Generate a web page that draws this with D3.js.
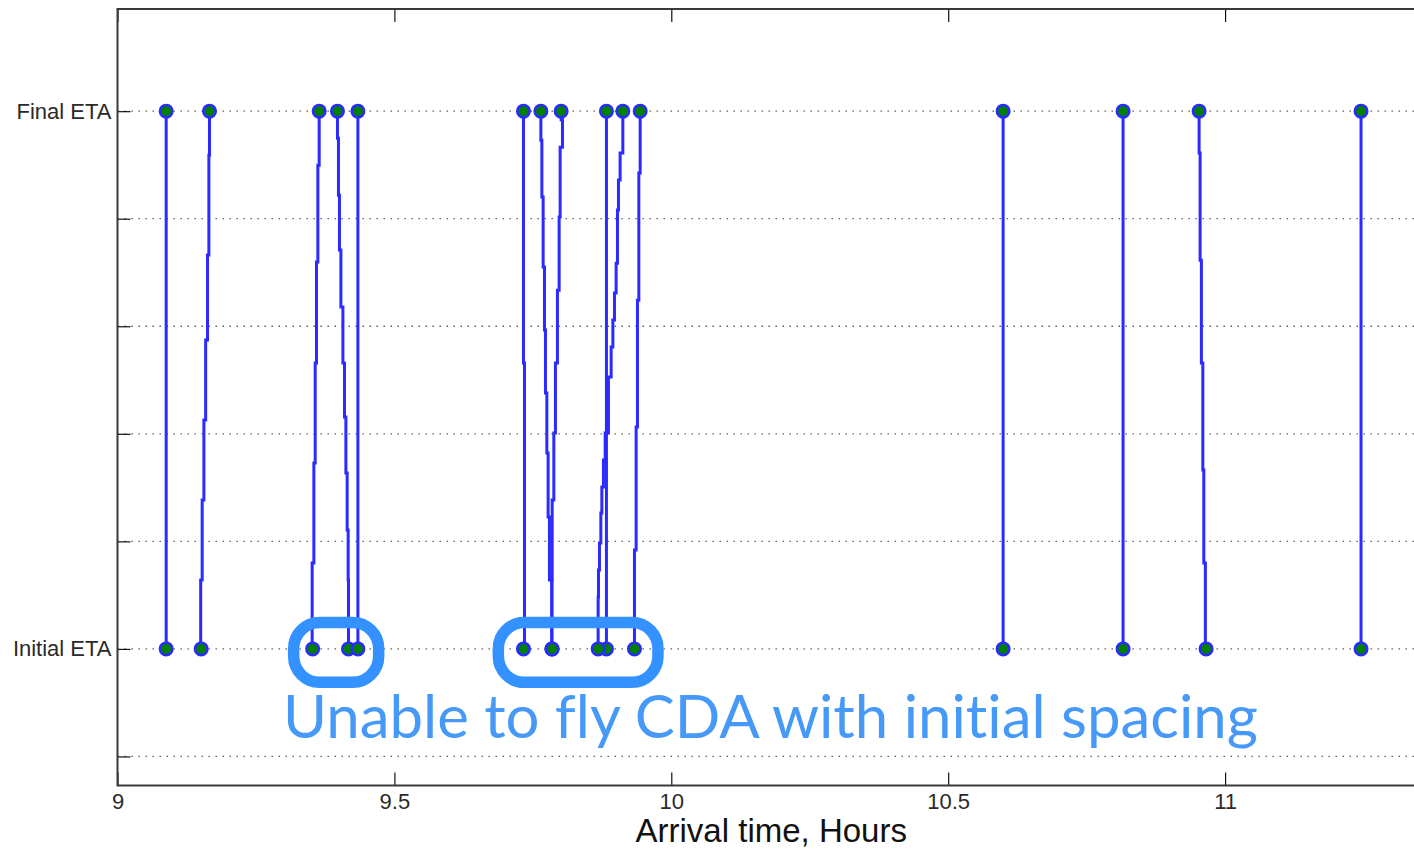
<!DOCTYPE html>
<html>
<head>
<meta charset="utf-8">
<script src="https://cdn.jsdelivr.net/npm/d3@7"></script>
<style>
  html, body { margin: 0; padding: 0; background: #fff; overflow: hidden; }
  svg { display: block; }
  .note { font-variant-ligatures: none; font-feature-settings: "liga" 0, "dlig" 0; }
</style>
</head>
<body>
<svg id="chart" width="1414" height="851"></svg>
<script>
// Arrival-time axis (hours) and ETA levels
const xTicks = [9, 9.5, 10, 10.5, 11];
const yTickValues = [0, 1, 2, 3, 4, 5, 6];
const yTickLabels = ["", "Initial ETA", "", "", "", "", "Final ETA"];

// ETA history of each flight: [level, arrival hour], from final (level 6) down to initial (level 1)
const etaTracks = [
  [[6, 9.0879], [1, 9.0879]],
  [[6, 9.1661], [5.591, 9.1650], [4.662, 9.1625], [3.872, 9.1592], [3.128, 9.1560], [2.385, 9.1529], [1.641, 9.1502], [1, 9.1511]],
  [[6, 9.3642], [5.498, 9.3618], [4.597, 9.3593], [3.658, 9.3570], [2.729, 9.3546], [1.799, 9.3515], [1, 9.3524]],
  [[6, 9.3972], [5.749, 9.3990], [5.219, 9.4008], [4.708, 9.4034], [4.178, 9.4070], [3.658, 9.4099], [3.156, 9.4124], [2.636, 9.4147], [2.106, 9.4165], [1.641, 9.4171], [1, 9.4171]],
  [[6, 9.4341], [1, 9.4341]],
  [[6, 9.7331], [3.658, 9.7349], [1, 9.7331]],
  [[6, 9.7645], [5.730, 9.7663], [5.201, 9.7686], [4.550, 9.7710], [3.965, 9.7728], [3.379, 9.7753], [2.822, 9.7776], [2.227, 9.7800], [1.641, 9.7843], [1, 9.7843]],
  [[6, 9.8011], [5.92, 9.8035], [5.665, 9.7993], [5.015, 9.7975], [4.336, 9.7944], [3.658, 9.7908], [3.007, 9.7879], [2.385, 9.7849], [1.641, 9.7843], [1, 9.7849]],
  [[6, 9.8829], [1, 9.8829]],
  [[6, 9.9125], [5.610, 9.9076], [5.359, 9.9046], [5.080, 9.9028], [4.587, 9.9004], [4.309, 9.8974], [4.058, 9.8945], [3.807, 9.8914], [3.528, 9.8865], [3.007, 9.8806], [2.757, 9.8775], [2.506, 9.8746], [2.264, 9.8728], [1.985, 9.8703], [1.734, 9.8685], [1.483, 9.8679], [1, 9.8679]],
  [[6, 9.9438], [5.424, 9.9414], [4.243, 9.9389], [3.063, 9.9365], [1.920, 9.9335], [1, 9.9335]],
  [[6, 10.5992], [1, 10.5992]],
  [[6, 10.8158], [1, 10.8158]],
  [[6, 10.9531], [5.610, 10.9549], [4.615, 10.9572], [3.658, 10.9598], [2.664, 10.9616], [1.799, 10.9644], [1, 10.9657]],
  [[6, 11.2455], [1, 11.2455]]
];

// Groups of initial ETAs that could not be flown as CDA: [start hour, end hour, top level, bottom level]
const highlightSpans = [
  [9.3181, 9.4716, 1.246, 0.689],
  [9.6877, 9.9759, 1.246, 0.689]
];
const noteText = "Unable to fly CDA with initial spacing";
const xTitle = "Arrival time, Hours";

const svg = d3.select("#chart");
const plot = { left: 117.5, right: 1425, top: 9, bottom: 785.5 };

const x = d3.scaleLinear().domain([9, 11.361]).range([plot.left, plot.right]);
const y = d3.scaleLinear().domain([-0.27, 6.95]).range([plot.bottom, plot.top]);

const font = "'Liberation Sans', Arial, Helvetica, sans-serif";

// dotted horizontal grid
svg.append("g")
  .selectAll("line")
  .data(yTickValues)
  .join("line")
  .attr("x1", plot.left).attr("x2", plot.right)
  .attr("y1", d => y(d)).attr("y2", d => y(d))
  .attr("stroke", "#555")
  .attr("stroke-width", 1.3)
  .attr("stroke-dasharray", "1.4,5.6");

// left axis with inward ticks
const yAxis = d3.axisLeft(y)
  .tickValues(yTickValues)
  .tickSize(-13)
  .tickPadding(20)
  .tickFormat((d, i) => yTickLabels[i]);
const gy = svg.append("g").attr("transform", `translate(${plot.left},0)`).call(yAxis);
gy.select(".domain").remove();
gy.selectAll(".tick line").attr("stroke", "#111").attr("stroke-width", 1.2);
gy.selectAll(".tick text")
  .attr("x", -6)
  .attr("font-family", font)
  .attr("font-size", 22)
  .attr("fill", "#2a2a2a");

// bottom axis with inward ticks
const xAxis = d3.axisBottom(x).tickValues(xTicks).tickSize(-13).tickFormat(d3.format("~g"));
const gx = svg.append("g").attr("transform", `translate(0,${plot.bottom})`).call(xAxis);
gx.select(".domain").remove();
gx.selectAll(".tick line").attr("stroke", "#111").attr("stroke-width", 1.2);
gx.selectAll(".tick text")
  .attr("y", 23)
  .attr("dy", 0)
  .attr("font-family", font)
  .attr("font-size", 22)
  .attr("fill", "#2a2a2a");

// top axis mirrors the bottom ticks
const gxt = svg.append("g").attr("transform", `translate(0,${plot.top})`)
  .call(d3.axisTop(x).tickValues(xTicks).tickSize(-13).tickFormat(""));
gxt.select(".domain").remove();
gxt.selectAll(".tick line").attr("stroke", "#111").attr("stroke-width", 1.2);

// plot box
svg.append("rect")
  .attr("x", plot.left).attr("y", plot.top)
  .attr("width", plot.right - plot.left).attr("height", plot.bottom - plot.top)
  .attr("fill", "none")
  .attr("stroke", "#3a3a3a")
  .attr("stroke-width", 2);

// ETA tracks
const track = d3.line()
  .x(d => x(d[1]))
  .y(d => y(d[0]))
  .curve(d3.curveStepBefore);

svg.append("g")
  .selectAll("path")
  .data(etaTracks)
  .join("path")
  .attr("d", track)
  .attr("fill", "none")
  .attr("stroke", "#2b2bff")
  .attr("stroke-width", 3)
  .attr("stroke-linejoin", "miter");

// final and initial ETA markers
const endpoints = etaTracks.flatMap(t => [t[0], t[t.length - 1]]);
svg.append("g")
  .selectAll("circle")
  .data(endpoints)
  .join("circle")
  .attr("cx", d => x(d[1]))
  .attr("cy", d => y(d[0]))
  .attr("r", 6.2)
  .attr("fill", "#008000")
  .attr("stroke", "#2b2bff")
  .attr("stroke-width", 2.6);

// highlighted groups
svg.append("g")
  .selectAll("rect")
  .data(highlightSpans)
  .join("rect")
  .attr("x", d => x(d[0]))
  .attr("y", d => y(d[2]))
  .attr("width", d => x(d[1]) - x(d[0]))
  .attr("height", d => y(d[3]) - y(d[2]))
  .attr("rx", 26).attr("ry", 26)
  .attr("fill", "none")
  .attr("stroke", "#3392ff")
  .attr("stroke-width", 11.5);

// annotation
svg.append("text")
  .attr("class", "note")
  .attr("x", 283)
  .attr("y", 738)
  .attr("font-family", "Lato, 'Open Sans', sans-serif")
  .attr("font-size", 60)
  .attr("fill", "#4799f7")
  .attr("textLength", 975)
  .attr("lengthAdjust", "spacingAndGlyphs")
  .text(noteText);

// x-axis title
svg.append("text")
  .attr("x", (plot.left + plot.right) / 2)
  .attr("y", 842)
  .attr("text-anchor", "middle")
  .attr("font-family", font)
  .attr("font-size", 33)
  .attr("fill", "#111")
  .text(xTitle);
</script>
</body>
</html>
